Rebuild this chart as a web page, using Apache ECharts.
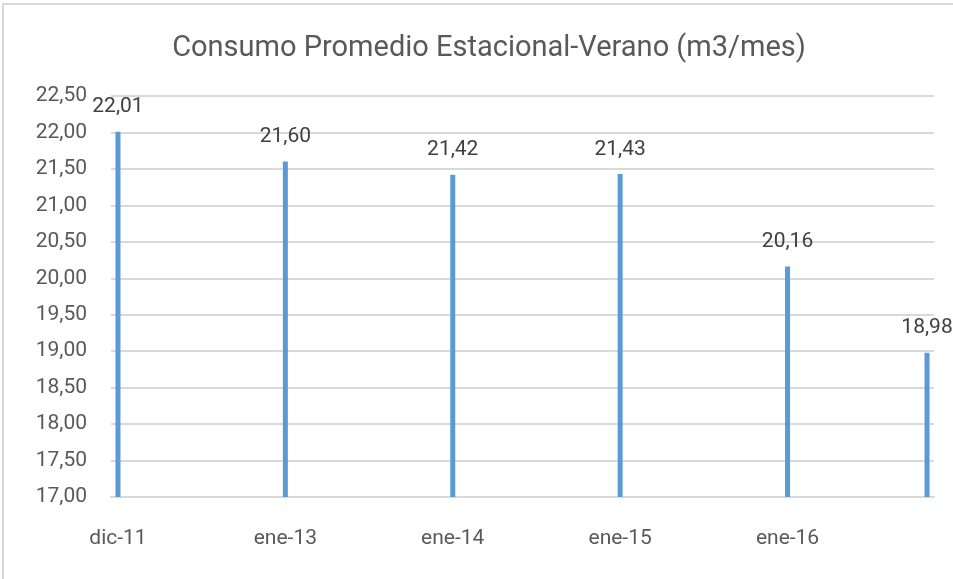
<!DOCTYPE html>
<html>
<head>
<meta charset="utf-8">
<script src="https://cdn.jsdelivr.net/npm/echarts@6/dist/echarts.min.js"></script>
<style>
html,body{margin:0;padding:0;background:#fff;}
#chart{width:953px;height:579px;}
</style>
</head>
<body>
<div id="chart"></div>
<script>
// Data
var periodLabels = ['dic-11', 'ene-13', 'ene-14', 'ene-15', 'ene-16', ''];
// position of each bar on the date axis, in months from the first bar
var periodMonths = [0, 12, 24, 36, 48, 58];
var consumo = [22.01, 21.60, 21.42, 21.43, 20.16, 18.98];
var yTicks = [17, 17.5, 18, 18.5, 19, 19.5, 20, 20.5, 21, 21.5, 22, 22.5];

var fmt = function (v) { return Number(v).toFixed(2).replace('.', ','); };
var textColor = '#595959';
var font = 'Roboto';

var seriesData = periodMonths.map(function (m, i) { return [m, consumo[i]]; });
var labelAt = {};
periodMonths.forEach(function (m, i) { if (periodLabels[i]) labelAt[m] = periodLabels[i]; });

var chart = echarts.init(document.getElementById('chart'), null, {renderer: 'canvas'});
chart.setOption({
  animation: false,
  backgroundColor: '#fff',
  title: {
    text: 'Consumo Promedio Estacional-Verano (m3/mes)',
    left: 484, top: 29, textAlign: 'center',
    textStyle: {fontFamily: font, fontSize: 29, fontWeight: 'normal', color: textColor}
  },
  graphic: [{
    type: 'rect', silent: true, z: -1,
    shape: {x: 3, y: 4, width: 1000, height: 700},
    style: {fill: 'none', stroke: '#d9d9d9', lineWidth: 2}
  }],
  grid: {left: 111, right: 19, top: 96, bottom: 82, containLabel: false},
  xAxis: {
    type: 'value', min: -0.5, max: 58.5,
    axisLine: {show: true, lineStyle: {color: '#d9d9d9', width: 2}},
    axisTick: {show: false},
    splitLine: {show: false},
    axisLabel: {
      customValues: periodMonths.filter(function (m) { return labelAt[m] !== undefined; }),
      formatter: function (v) { return labelAt[v] || ''; },
      margin: 31, fontFamily: font, fontSize: 21, color: textColor
    }
  },
  yAxis: {
    type: 'value', min: yTicks[0], max: yTicks[yTicks.length - 1], interval: 0.5,
    axisLine: {show: false}, axisTick: {show: false},
    splitLine: {lineStyle: {color: '#d9d9d9', width: 2}},
    axisLabel: {formatter: fmt, margin: 24, fontFamily: font, fontSize: 21, color: textColor}
  },
  series: [{
    type: 'bar',
    data: seriesData,
    barWidth: 5,
    itemStyle: {color: '#5b9bd5'},
    label: {
      show: true, position: 'top', distance: 14,
      formatter: function (p) { return fmt(p.value[1]); },
      fontFamily: font, fontSize: 21, color: '#404040'
    }
  }]
});
</script>
</body>
</html>
